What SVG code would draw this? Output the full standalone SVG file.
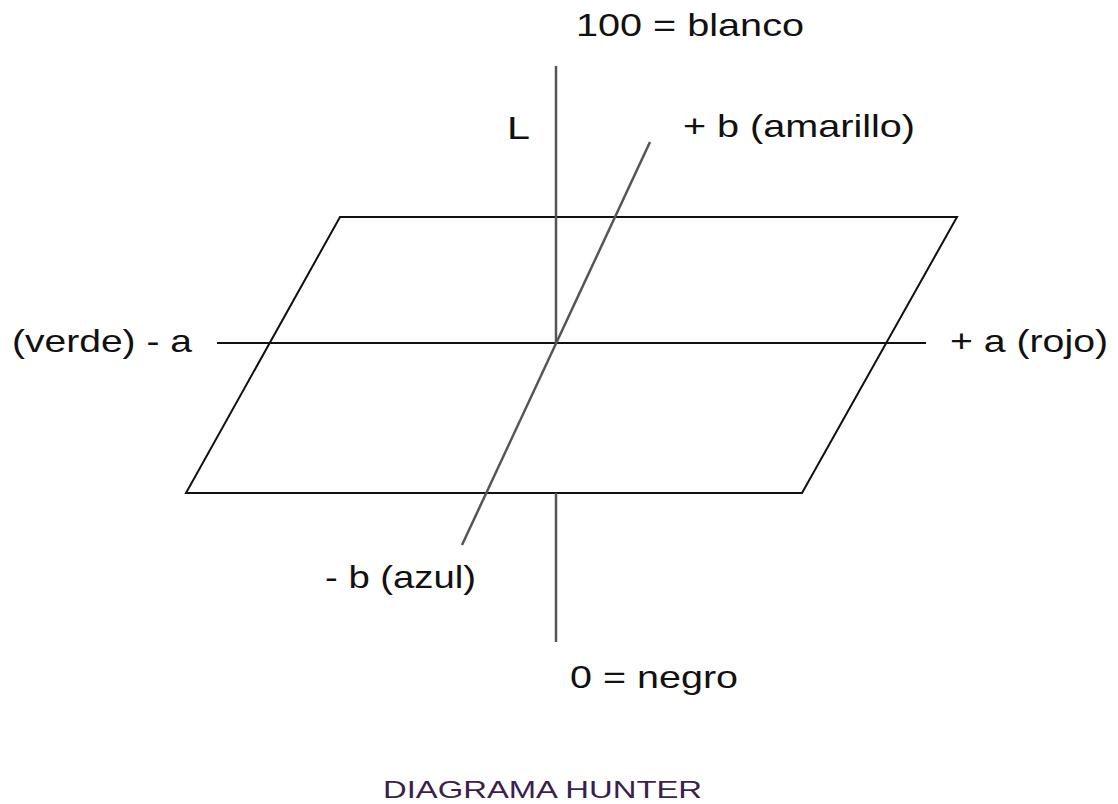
<svg xmlns="http://www.w3.org/2000/svg" width="1118" height="804" viewBox="0 0 1118 804">
<style>
.t{font-family:"Liberation Sans",Arial,sans-serif;font-size:32px;fill:#111}
.title{font-family:"Liberation Sans",Arial,sans-serif;font-size:24px;fill:#3a1f4e}
.ax{stroke:#555;stroke-width:2.5;fill:none}
.pl{stroke:#111;stroke-width:2;fill:none}
</style>
<rect width="1118" height="804" fill="#fff"/>
<g id="connectors">
<polygon class="pl" points="340,217 957,217 802,493 186,493"/>
<line class="pl" x1="217" y1="343" x2="926" y2="343"/>
<line class="ax" x1="556" y1="66" x2="556" y2="343"/>
<line class="ax" x1="556" y1="493" x2="556" y2="642"/>
<line class="ax" x1="650" y1="142" x2="462" y2="545"/>
</g>
<g id="label-blanco"><text class="t" x="576" y="36" textLength="228" lengthAdjust="spacingAndGlyphs">100 = blanco</text></g>
<g id="label-L"><text class="t" x="507" y="139" textLength="23" lengthAdjust="spacingAndGlyphs">L</text></g>
<g id="label-amarillo"><text class="t" x="683" y="137" textLength="232" lengthAdjust="spacingAndGlyphs">+ b (amarillo)</text></g>
<g id="label-verde"><text class="t" x="12" y="352" textLength="180" lengthAdjust="spacingAndGlyphs">(verde) - a</text></g>
<g id="label-rojo"><text class="t" x="950" y="352" textLength="158" lengthAdjust="spacingAndGlyphs">+ a (rojo)</text></g>
<g id="label-azul"><text class="t" x="325" y="588" textLength="151" lengthAdjust="spacingAndGlyphs">- b (azul)</text></g>
<g id="label-negro"><text class="t" x="570" y="688" textLength="168" lengthAdjust="spacingAndGlyphs">0 = negro</text></g>
<g id="title"><text class="title" x="383" y="798" textLength="319" lengthAdjust="spacingAndGlyphs">DIAGRAMA HUNTER</text></g>
</svg>
